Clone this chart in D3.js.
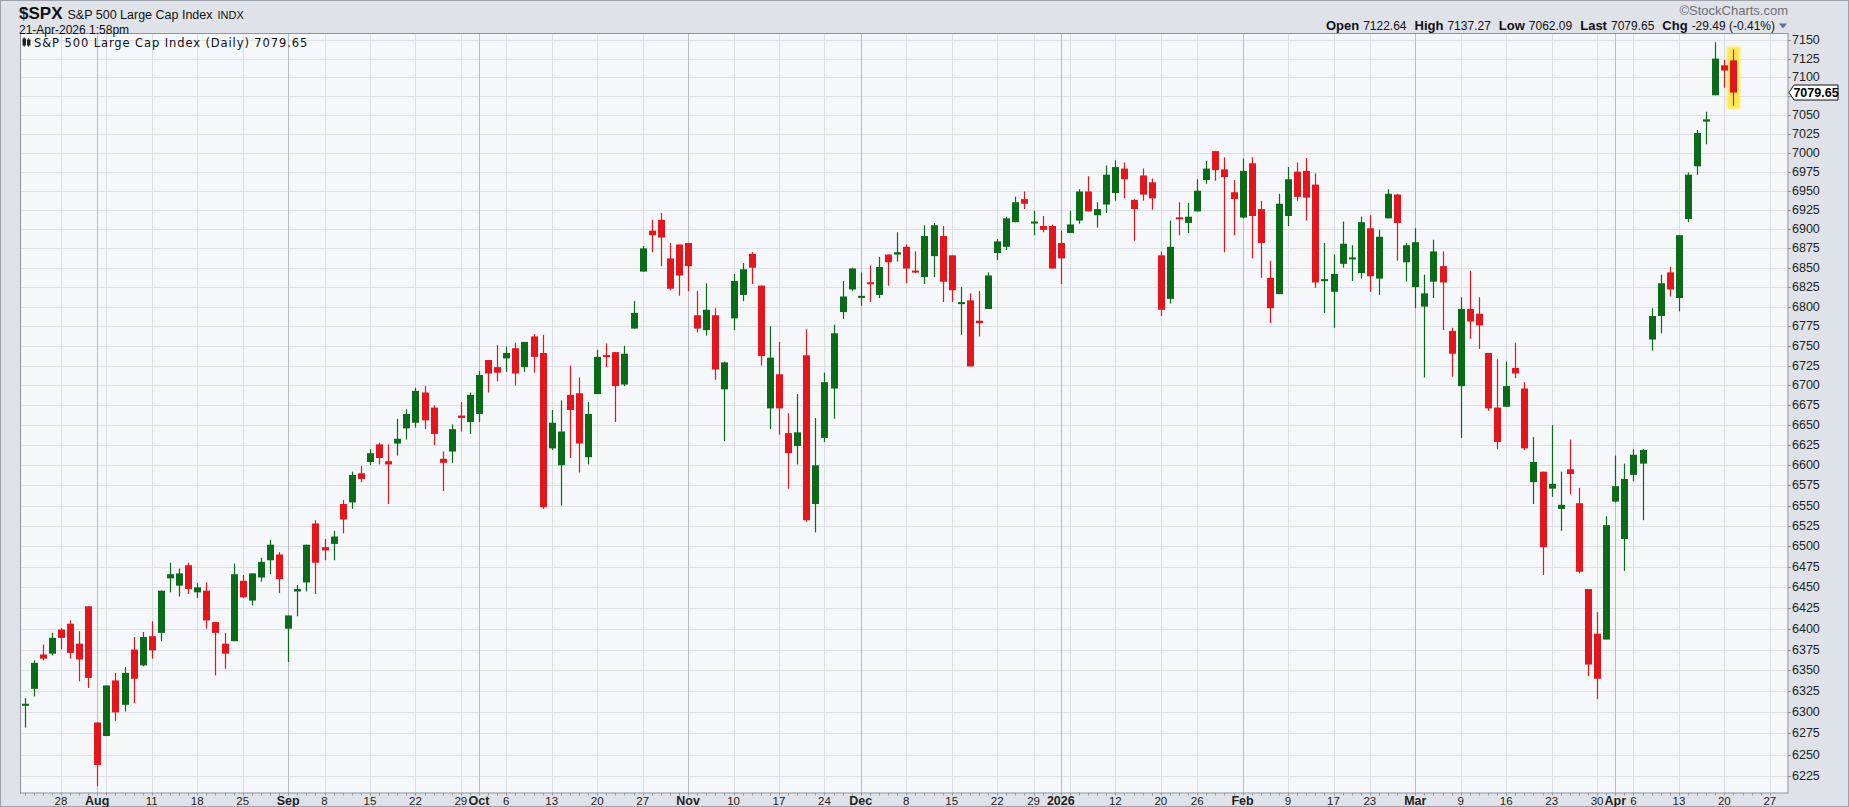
<!DOCTYPE html>
<html>
<head>
<meta charset="utf-8">
<script src="https://cdn.jsdelivr.net/npm/d3@7/dist/d3.min.js"></script>
<style>
html,body{margin:0;padding:0;background:#dfe2e8;}
svg{display:block;}
</style>
</head>
<body>
<svg id="chart" width="1849" height="807"></svg>
<script>
// ---------- DATA ----------
const dates = [
"2025-07-22","2025-07-23","2025-07-24","2025-07-25","2025-07-28","2025-07-29","2025-07-30","2025-07-31",
"2025-08-01","2025-08-04","2025-08-05","2025-08-06","2025-08-07","2025-08-08","2025-08-11","2025-08-12","2025-08-13","2025-08-14","2025-08-15","2025-08-18","2025-08-19","2025-08-20","2025-08-21","2025-08-22","2025-08-25","2025-08-26","2025-08-27","2025-08-28","2025-08-29",
"2025-09-02","2025-09-03","2025-09-04","2025-09-05","2025-09-08","2025-09-09","2025-09-10","2025-09-11","2025-09-12","2025-09-15","2025-09-16","2025-09-17","2025-09-18","2025-09-19","2025-09-22","2025-09-23","2025-09-24","2025-09-25","2025-09-26","2025-09-29","2025-09-30",
"2025-10-01","2025-10-02","2025-10-03","2025-10-06","2025-10-07","2025-10-08","2025-10-09","2025-10-10","2025-10-13","2025-10-14","2025-10-15","2025-10-16","2025-10-17","2025-10-20","2025-10-21","2025-10-22","2025-10-23","2025-10-24","2025-10-27","2025-10-28","2025-10-29","2025-10-30","2025-10-31",
"2025-11-03","2025-11-04","2025-11-05","2025-11-06","2025-11-07","2025-11-10","2025-11-11","2025-11-12","2025-11-13","2025-11-14","2025-11-17","2025-11-18","2025-11-19","2025-11-20","2025-11-21","2025-11-24","2025-11-25","2025-11-26","2025-11-28",
"2025-12-01","2025-12-02","2025-12-03","2025-12-04","2025-12-05","2025-12-08","2025-12-09","2025-12-10","2025-12-11","2025-12-12","2025-12-15","2025-12-16","2025-12-17","2025-12-18","2025-12-19","2025-12-22","2025-12-23","2025-12-24","2025-12-26","2025-12-29","2025-12-30","2025-12-31",
"2026-01-02","2026-01-05","2026-01-06","2026-01-07","2026-01-08","2026-01-09","2026-01-12","2026-01-13","2026-01-14","2026-01-15","2026-01-16","2026-01-20","2026-01-21","2026-01-22","2026-01-23","2026-01-26","2026-01-27","2026-01-28","2026-01-29","2026-01-30",
"2026-02-02","2026-02-03","2026-02-04","2026-02-05","2026-02-06","2026-02-09","2026-02-10","2026-02-11","2026-02-12","2026-02-13","2026-02-17","2026-02-18","2026-02-19","2026-02-20","2026-02-23","2026-02-24","2026-02-25","2026-02-26","2026-02-27",
"2026-03-02","2026-03-03","2026-03-04","2026-03-05","2026-03-06","2026-03-09","2026-03-10","2026-03-11","2026-03-12","2026-03-13","2026-03-16","2026-03-17","2026-03-18","2026-03-19","2026-03-20","2026-03-23","2026-03-24","2026-03-25","2026-03-26","2026-03-27","2026-03-30","2026-03-31",
"2026-04-01","2026-04-02","2026-04-06","2026-04-07","2026-04-08","2026-04-09","2026-04-10","2026-04-13","2026-04-14","2026-04-15","2026-04-16","2026-04-17","2026-04-20","2026-04-21",
"2026-04-22","2026-04-23","2026-04-24","2026-04-27"
];

const open = [
6308,6328,6369,6370,6399,6406,6382,6427,
6288,6272,6338,6309,6375,6356,6391,6395,6461,6452,6477,6444,6446,6408,6382,6385,6458,6434,6462,6483,6490,
6400,6445,6456,6528,6499,6503,6552,6554,6590,6604,6626,6605,6627,6646,6653,6691,6672,6608,6617,6662,6654,
6664,6732,6723,6734,6747,6723,6762,6741,6621,6600,6688,6690,6610,6689,6738,6742,6701,6772,6845,6898,6912,6862,6880,
6882,6789,6770,6789,6695,6785,6815,6868,6827,6671,6714,6640,6624,6738,6552,6634,6696,6793,6822,
6812,6831,6815,6867,6867,6877,6846,6838,6865,6891,6866,6804,6808,6782,6797,6869,6877,6909,6939,6908,6904,6904,
6882,6895,6911,6949,6918,6932,6947,6979,6938,6970,6961,6866,6810,6915,6908,6923,6964,7002,6978,6948,
6915,6986,6926,6837,6816,6917,6975,6976,6958,6833,6819,6855,6861,6843,6901,6836,6914,6945,6857,
6825,6800,6832,6852,6769,6699,6797,6791,6741,6672,6673,6722,6696,6579,6592,6571,6546,6595,6553,6448,6394,6387,
6555,6509,6588,6602,6758,6788,6844,6811,6913,6982,7041,7076,7116,7122.64
];
const high = [
6317,6362,6381,6395,6401,6410,6397,6427,
6288,6332,6347,6354,6390,6396,6409,6446,6480,6473,6480,6455,6456,6408,6395,6479,6465,6467,6486,6508,6493,
6416,6453,6502,6532,6509,6519,6557,6592,6599,6620,6628,6626,6658,6670,6697,6699,6675,6617,6651,6679,6691,
6718,6732,6751,6749,6754,6755,6765,6764,6669,6681,6725,6710,6679,6745,6753,6742,6750,6807,6878,6912,6921,6882,6880,
6882,6820,6830,6798,6730,6842,6856,6870,6827,6775,6755,6665,6689,6771,6659,6716,6777,6833,6850,
6844,6853,6864,6867,6896,6880,6871,6905,6908,6904,6866,6825,6817,6820,6844,6887,6916,6942,6949,6924,6917,6906,
6898,6924,6952,6969,6935,6983,6990,6987,6939,6979,6966,6871,6911,6935,6934,6965,6989,7002,6994,6964,
6992,6994,6937,6859,6946,6981,6987,6993,6973,6882,6867,6910,6879,6916,6918,6899,6952,6946,6882,
6901,6841,6886,6871,6773,6812,6846,6812,6741,6733,6730,6754,6704,6635,6592,6650,6592,6632,6572,6448,6420,6537,
6612,6602,6620,6620,6798,6841,6851,6892,6974,7030,7054,7147,7123,7137.27
];
const low = [
6282,6319,6362,6368,6375,6364,6337,6329,
6213,6272,6290,6301,6311,6355,6364,6385,6444,6439,6442,6437,6400,6344,6352,6385,6437,6428,6457,6466,6443,
6360,6415,6445,6442,6483,6483,6516,6546,6579,6600,6601,6552,6612,6632,6647,6645,6625,6568,6603,6642,6639,
6654,6691,6705,6717,6700,6717,6716,6546,6619,6550,6609,6591,6601,6689,6723,6654,6699,6772,6845,6870,6852,6821,6814,
6820,6767,6763,6707,6630,6770,6807,6829,6725,6645,6638,6571,6601,6530,6517,6629,6658,6784,6820,
6801,6806,6811,6827,6858,6830,6843,6829,6838,6806,6806,6764,6724,6762,6797,6860,6873,6909,6926,6892,6896,6849,
6829,6895,6907,6923,6902,6921,6937,6940,6885,6937,6925,6788,6804,6892,6895,6923,6959,6963,6870,6892,
6914,6862,6837,6779,6816,6904,6937,6911,6824,6792,6773,6850,6833,6836,6819,6815,6914,6859,6832,
6798,6710,6811,6770,6711,6634,6759,6746,6668,6620,6673,6709,6619,6552,6465,6561,6519,6564,6467,6343,6316,6387,
6554,6470,6580,6532,6744,6766,6813,6794,6909,6971,7011,7076,7086,7062.09
];
const close = [
6310,6359,6364,6389,6389,6371,6363,6341,
6238,6332,6300,6347,6340,6390,6374,6446,6466,6467,6448,6450,6410,6395,6370,6466,6438,6467,6481,6502,6460,
6416,6448,6502,6480,6495,6512,6533,6588,6583,6615,6609,6601,6633,6664,6693,6656,6639,6603,6645,6659,6688,
6713,6715,6716,6741,6715,6755,6736,6548,6653,6642,6669,6627,6664,6736,6736,6699,6740,6792,6875,6892,6889,6823,6840,
6852,6772,6796,6720,6729,6833,6848,6850,6737,6735,6671,6615,6641,6532,6600,6704,6766,6813,6849,
6813,6829,6851,6857,6870,6849,6844,6891,6905,6832,6821,6805,6724,6779,6840,6884,6914,6935,6933,6909,6899,6849,
6862,6906,6949,6923,6926,6971,6981,6965,6926,6945,6940,6796,6877,6913,6916,6950,6979,6977,6968,6939,
6976,6917,6882,6798,6933,6965,6942,6941,6831,6835,6842,6881,6863,6909,6839,6890,6946,6908,6879,
6883,6817,6871,6831,6740,6797,6781,6776,6671,6629,6699,6715,6621,6604,6499,6577,6551,6589,6469,6357,6340,6526,
6574,6583,6613,6619,6788,6830,6822,6892,6971,7026,7044,7125,7109,7079.65
];

const tickDates = ["2025-07-28","2025-08-01","2025-08-11","2025-08-18","2025-08-25","2025-09-02","2025-09-08","2025-09-15","2025-09-22","2025-09-29","2025-10-01","2025-10-06","2025-10-13","2025-10-20","2025-10-27","2025-11-03","2025-11-10","2025-11-17","2025-11-24","2025-12-01","2025-12-08","2025-12-15","2025-12-22","2025-12-29","2026-01-02","2026-01-12","2026-01-20","2026-01-26","2026-02-02","2026-02-09","2026-02-17","2026-02-23","2026-03-02","2026-03-09","2026-03-16","2026-03-23","2026-03-30","2026-04-01","2026-04-06","2026-04-13","2026-04-20","2026-04-27"];
const tickLabels = ["28","Aug","11","18","25","Sep","8","15","22","29","Oct","6","13","20","27","Nov","10","17","24","Dec","8","15","22","29","2026","12","20","26","Feb","9","17","23","Mar","9","16","23","30","Apr","6","13","20","27"];

const priceTicks = [6225,6250,6275,6300,6325,6350,6375,6400,6425,6450,6475,6500,6525,6550,6575,6600,6625,6650,6675,6700,6725,6750,6775,6800,6825,6850,6875,6900,6925,6950,6975,7000,7025,7050,7075,7100,7125,7150];

const symbol = "$SPX", title = "S&P 500 Large Cap Index", exch = "INDX";
const stamp = "21-Apr-2026 1:58pm";
const lastQuote = {open:"7122.64", high:"7137.27", low:"7062.09", last:"7079.65", chg:"-29.49 (-0.41%)"};

// ---------- LAYOUT ----------
const W = 1849, H = 807;
const pl = 20, pr = 1788, pt = 33.5, pb = 793;
const UP = "#0b6b18", DN = "#e3161d";
const svg = d3.select("#chart");

const x = d3.scaleLinear().domain([-0.5, 194]).range([pl, pr]);
const y = d3.scaleLog().domain([6225, 7150]).range([776, 40]);
const idx = new Map(dates.map((d,i)=>[d,i]));

// backgrounds
svg.append("rect").attr("x",0).attr("y",0).attr("width",W).attr("height",H).attr("fill","#dfe2e8");
svg.append("rect").attr("x",0.5).attr("y",0.5).attr("width",W-1).attr("height",H-1).attr("fill","none").attr("stroke","#9da1a9").attr("stroke-width",1);
svg.append("rect").attr("x",pl).attr("y",pt).attr("width",pr-pl).attr("height",pb-pt).attr("fill","#f6f7fa");

svg.append("defs").append("clipPath").attr("id","clip")
  .append("rect").attr("x",pl).attr("y",pt).attr("width",pr-pl).attr("height",pb-pt);
const defs = svg.select("defs");
const f = defs.append("filter").attr("id","glow").attr("x","-50%").attr("y","-20%").attr("width","200%").attr("height","140%");
f.append("feGaussianBlur").attr("stdDeviation",1.2);

const plot = svg.append("g").attr("clip-path","url(#clip)");

// horizontal grid
plot.selectAll("line.hg").data(priceTicks).join("line")
  .attr("x1",pl).attr("x2",pr)
  .attr("y1",d=>Math.round(y(d))+0.5).attr("y2",d=>Math.round(y(d))+0.5)
  .attr("stroke","#dcdfe6").attr("stroke-width",1);

// vertical grid: week starts & month starts
const dow = s => new Date(s+"T12:00:00Z").getUTCDay();
const weekIdx = [], monthIdx = [];
dates.forEach((d,i)=>{
  if(i===0) return;
  if(dow(d) < dow(dates[i-1])) weekIdx.push(i);
  if(d.slice(5,7)!==dates[i-1].slice(5,7)) monthIdx.push(i);
});
plot.selectAll("line.wg").data(weekIdx).join("line")
  .attr("x1",d=>Math.round(x(d))+0.5).attr("x2",d=>Math.round(x(d))+0.5)
  .attr("y1",pt).attr("y2",pb).attr("stroke","#dadde4");
plot.selectAll("line.mg").data(monthIdx).join("line")
  .attr("x1",d=>Math.round(x(d))+0.5).attr("x2",d=>Math.round(x(d))+0.5)
  .attr("y1",pt).attr("y2",pb).attr("stroke","#b9bdc6");

// highlight last candle
const last = open.length-1;
plot.append("rect")
  .attr("x",Math.round(x(last))-6).attr("width",13)
  .attr("y",y(high[last])-3).attr("height",y(low[last])-y(high[last])+6)
  .attr("fill","#ffe83a").attr("opacity",0.9).attr("filter","url(#glow)");

// candles
const candles = plot.append("g").selectAll("g").data(open.map((o,i)=>i)).join("g");
candles.append("line")
  .attr("x1",i=>Math.round(x(i))+0.5).attr("x2",i=>Math.round(x(i))+0.5)
  .attr("y1",i=>y(high[i])).attr("y2",i=>y(low[i]))
  .attr("stroke",i=>close[i]>=open[i]?UP:DN).attr("stroke-width",1.2);
candles.append("rect")
  .attr("x",i=>Math.round(x(i))-3).attr("width",7)
  .attr("y",i=>{const a=y(Math.max(open[i],close[i])), b=y(Math.min(open[i],close[i])); return b-a<2 ? (a+b)/2-1 : a;})
  .attr("height",i=>Math.max(2, y(Math.min(open[i],close[i]))-y(Math.max(open[i],close[i]))))
  .attr("fill",i=>close[i]>=open[i]?UP:DN);

// plot border
svg.append("rect").attr("x",pl+0.5).attr("y",pt).attr("width",pr-pl-0.5).attr("height",pb-pt)
  .attr("fill","none").attr("stroke","#8f939b").attr("stroke-width",1);

// bottom axis minor ticks
svg.append("g").selectAll("line").data(dates.map((d,i)=>i)).join("line")
  .attr("x1",i=>Math.round(x(i))+0.5).attr("x2",i=>Math.round(x(i))+0.5)
  .attr("y1",pb).attr("y2",pb+2.5).attr("stroke","#8f939b");

// x labels
const axisFont = "'Liberation Sans Narrow','Arial Narrow','Liberation Sans',Arial,sans-serif";
const isNum = s => /^\d+$/.test(s) && s !== "2026";
svg.append("g").selectAll("text").data(tickDates).join("text")
  .attr("x",(d,k)=>x(idx.get(d)))
  .attr("y",805)
  .attr("text-anchor","middle")
  .attr("font-family",axisFont)
  .attr("font-size",(d,k)=>isNum(tickLabels[k])?11.5:12.5)
  .attr("font-weight",(d,k)=>isNum(tickLabels[k])?"normal":"bold")
  .attr("fill","#222")
  .text((d,k)=>tickLabels[k]);

// y labels
const tagY = y(close[last]);
svg.append("g").selectAll("line").data(priceTicks).join("line")
  .attr("x1",pr).attr("x2",pr+3)
  .attr("y1",d=>Math.round(y(d))+0.5).attr("y2",d=>Math.round(y(d))+0.5)
  .attr("stroke","#8f939b");
svg.append("g").selectAll("text").data(priceTicks.filter(t=>Math.abs(y(t)-tagY)>11)).join("text")
  .attr("x",pr+4).attr("y",d=>y(d)+4)
  .attr("font-family",axisFont).attr("font-size",12.5).attr("fill","#222")
  .text(d=>d);

// last price tag
const tg = svg.append("g");
tg.append("path")
  .attr("d",`M${pr+1},${tagY} L${pr+6},${tagY-7.5} L${pr+50},${tagY-7.5} L${pr+50},${tagY+7.5} L${pr+6},${tagY+7.5} Z`)
  .attr("fill","#ffffff").attr("stroke","#111").attr("stroke-width",1);
tg.append("text").attr("x",pr+28).attr("y",tagY+4.5).attr("text-anchor","middle")
  .attr("font-family",axisFont).attr("font-size",12.5).attr("font-weight","bold").attr("fill","#000")
  .text(lastQuote.last);

// header left
const hf = "'Liberation Sans',Arial,sans-serif";
const h1 = svg.append("text").attr("x",19).attr("y",19).attr("font-family",hf).attr("fill","#111");
h1.append("tspan").attr("font-size",17).attr("font-weight","bold").text(symbol);
h1.append("tspan").attr("dx",5).attr("font-size",12.5).text(title);
h1.append("tspan").attr("dx",5).attr("font-size",11).text(exch);
svg.append("text").attr("x",19).attr("y",34).attr("font-family",hf).attr("font-size",12).attr("fill","#111").text(stamp);

// header right
svg.append("text").attr("x",1788).attr("y",15).attr("text-anchor","end")
  .attr("font-family",hf).attr("font-size",13).attr("fill","#6b6f77").text("\u00A9StockCharts.com");
const q = svg.append("text").attr("x",1775).attr("y",30).attr("text-anchor","end").attr("font-family",axisFont).attr("fill","#111");
[["Open",lastQuote.open],["High",lastQuote.high],["Low",lastQuote.low],["Last",lastQuote.last],["Chg",lastQuote.chg]].forEach((p,k)=>{
  q.append("tspan").attr("dx",k?8:0).attr("font-size",13).attr("font-weight","bold").text(p[0]);
  q.append("tspan").attr("dx",4).attr("font-size",12).text(p[1]);
});
svg.append("path").attr("d","M1779,23.5 L1787,23.5 L1783,28.5 Z").attr("fill","#5872a8");

// inner title with icon
const ic = svg.append("g").attr("fill","#222").attr("stroke","#222");
ic.append("rect").attr("x",23).attr("y",39).attr("width",2.5).attr("height",6);
ic.append("line").attr("x1",24.2).attr("x2",24.2).attr("y1",37).attr("y2",47).attr("stroke-width",0.8);
ic.append("rect").attr("x",27.5).attr("y",40).attr("width",2.5).attr("height",5);
ic.append("line").attr("x1",28.7).attr("x2",28.7).attr("y1",38).attr("y2",47).attr("stroke-width",0.8);
svg.append("text").attr("x",34).attr("y",47).attr("font-family","'DejaVu Sans',Verdana,sans-serif")
  .attr("font-size",11.5).attr("letter-spacing",0.9).attr("fill","#111")
  .text(`${title} (Daily) ${lastQuote.last}`);
</script>
</body>
</html>
